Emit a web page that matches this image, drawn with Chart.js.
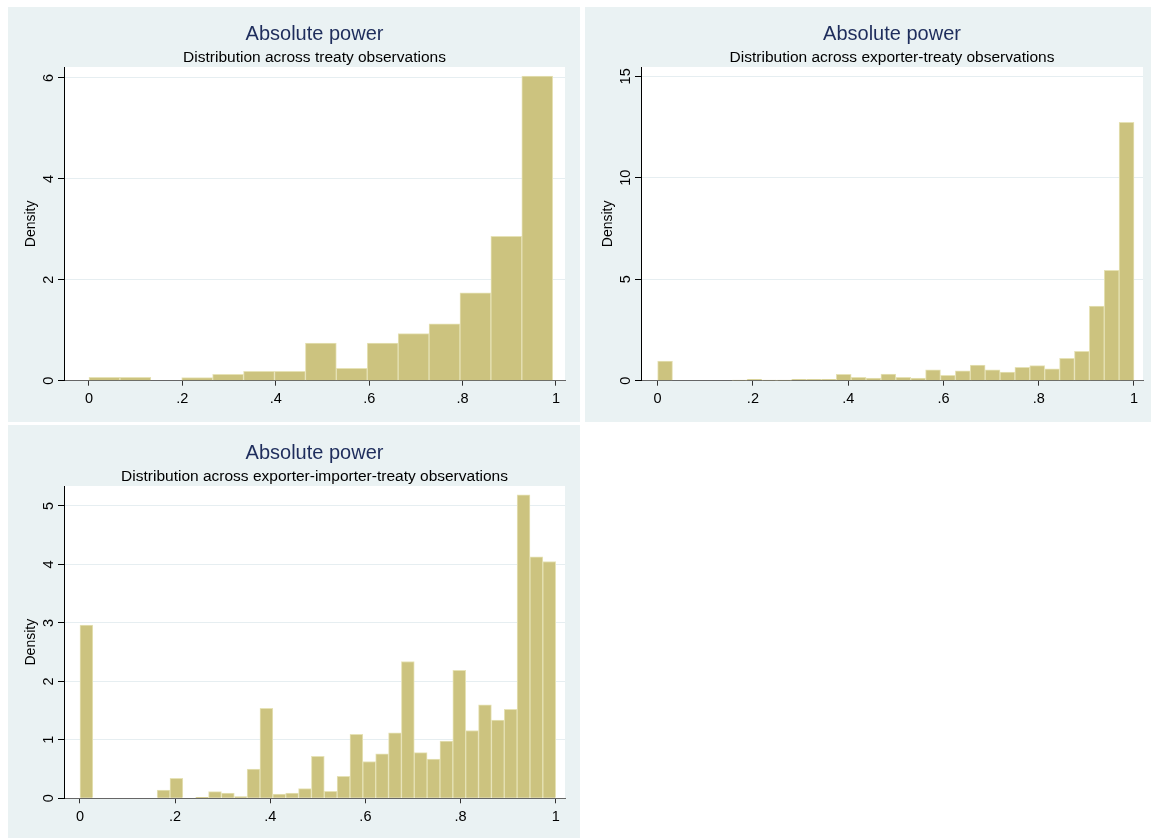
<!DOCTYPE html>
<html>
<head>
<meta charset="utf-8">
<script src="https://cdn.jsdelivr.net/npm/chart.js@4.4.1/dist/chart.umd.min.js"></script>
<style>
  body { margin: 0; background: #fff; width: 1151px; height: 838px; position: relative; overflow: hidden; }
  .panel { position: absolute; background: #EAF2F3; }
  canvas { display: block; }
</style>
</head>
<body>
<div class="panel" style="left:8px;top:7px;width:572px;height:415px"><canvas id="c-treaty" width="572" height="415"></canvas></div>
<div class="panel" style="left:585px;top:7px;width:566px;height:415px"><canvas id="c-exporter" width="566" height="415"></canvas></div>
<div class="panel" style="left:8px;top:425px;width:572px;height:413px"><canvas id="c-pair" width="572" height="413"></canvas></div>
<script>
const TITLE = 'Absolute power';
const xTicks = [0, 0.2, 0.4, 0.6, 0.8, 1];

// treaty observations: 15 bins starting at 0
const treatyBinWidth = 0.0662;
const treatyDensity = [0.066, 0.066, 0, 0.06, 0.126, 0.185, 0.185, 0.748, 0.245, 0.748, 0.933, 1.125, 1.74, 2.864, 6.04];
const treatyYTicks = [0, 2, 4, 6];

// exporter-treaty observations: 32 bins
const exporterBinWidth = 1 / 32;
const exporterDensity = [0.97, 0, 0, 0, 0, 0.03, 0.07, 0.03, 0.03, 0.07, 0.07, 0.07, 0.32, 0.17, 0.13, 0.33,
  0.16, 0.13, 0.54, 0.26, 0.49, 0.77, 0.53, 0.43, 0.66, 0.74, 0.58, 1.10, 1.45, 3.68, 5.44, 12.73];
const exporterYTicks = [0, 5, 10, 15];

// exporter-importer-treaty observations: 37 bins
const pairBinWidth = 1 / 37;
const pairDensity = [2.965, 0, 0, 0, 0, 0, 0.14, 0.34, 0, 0.017, 0.114, 0.09, 0.03, 0.50, 1.54, 0.074, 0.09, 0.165,
  0.72, 0.12, 0.376, 1.095, 0.63, 0.76, 1.12, 2.34, 0.78, 0.67, 0.98, 2.19, 1.16, 1.60, 1.34, 1.52, 5.19, 4.13, 4.05];
const pairYTicks = [0, 1, 2, 3, 4, 5];

const FONT = 'Liberation Sans, Arial, sans-serif';
const fmtX = v => (v === 0 || v === 1) ? String(v) : String(v).replace(/^0/, '');

const plotBg = {
  id: 'plotBg',
  beforeDraw(chart) {
    const { ctx, chartArea: a } = chart;
    ctx.save();
    ctx.fillStyle = '#fff';
    ctx.fillRect(a.left, a.top, a.right - a.left, a.bottom - a.top);
    ctx.restore();
  }
};

function histogram(id, cfg) {
  const canvas = document.getElementById(id);
  const points = cfg.heights.map((h, i) => ({ x: (i + 0.5) * cfg.binWidth, y: h }));
  return new Chart(canvas, {
    type: 'bar',
    data: {
      datasets: [{
        data: points,
        backgroundColor: '#CCC37F',
        borderColor: '#E6E2B6',
        borderWidth: 1,
        barPercentage: 1,
        categoryPercentage: 1,
      }],
    },
    options: {
      responsive: false,
      animation: false,
      layout: { padding: { top: cfg.topPad, right: cfg.rightPad, left: 0, bottom: 0 } },
      plugins: {
        legend: { display: false },
        tooltip: { enabled: false },
        title: {
          display: true, text: TITLE, fullSize: false, color: '#1E2D5C',
          font: { family: FONT, size: 20, weight: 'normal' }, padding: { top: 15, bottom: 0 },
        },
        subtitle: {
          display: true, text: cfg.subtitle, fullSize: false, color: '#000',
          font: { family: FONT, size: 15.5, weight: 'normal' }, padding: { top: 2, bottom: 0.4 },
        },
      },
      scales: {
        x: {
          type: 'linear', min: cfg.xMin, max: cfg.xMax, offset: false,
          afterBuildTicks: s => { s.ticks = xTicks.map(v => ({ value: v })); },
          afterFit: s => { s.height = cfg.xAxisHeight; },
          grid: { offset: false, drawOnChartArea: false, tickLength: 5, tickColor: '#333' },
          border: { color: '#666', width: 1 },
          ticks: { font: { family: FONT, size: 14.5 }, color: '#000', padding: 5, maxRotation: 0, autoSkip: false, callback: fmtX },
        },
        y: {
          min: 0, max: cfg.yMax,
          afterBuildTicks: s => { s.ticks = cfg.yTicks.map(v => ({ value: v })); },
          afterFit: s => { s.width = 56; },
          grid: { color: '#E6EEF1', tickColor: '#000', tickLength: 6 },
          border: { color: '#000', width: 1 },
          ticks: { font: { family: FONT, size: 14.5 }, color: '#000', minRotation: 90, maxRotation: 90, crossAlign: 'center', padding: cfg.yLabelPad },
          title: { display: true, text: 'Density', color: '#000', font: { family: FONT, size: 14 }, padding: { top: 15, bottom: 0 } },
        },
      },
    },
    plugins: [plotBg],
  });
}

histogram('c-treaty', {
  heights: treatyDensity, binWidth: treatyBinWidth, yTicks: treatyYTicks,
  subtitle: 'Distribution across treaty observations',
  xMin: -0.0535, xMax: 1.0193, yMax: 6.218, topPad: 0, rightPad: 15, xAxisHeight: 41.3, yLabelPad: 5,
});
histogram('c-exporter', {
  heights: exporterDensity, binWidth: exporterBinWidth, yTicks: exporterYTicks,
  subtitle: 'Distribution across exporter-treaty observations',
  xMin: -0.0349, xMax: 1.0189, yMax: 15.46, topPad: 0, rightPad: 8, xAxisHeight: 41.3, yLabelPad: 1,
});
histogram('c-pair', {
  heights: pairDensity, binWidth: pairBinWidth, yTicks: pairYTicks,
  subtitle: 'Distribution across exporter-importer-treaty observations',
  xMin: -0.0336, xMax: 1.0196, yMax: 5.342, topPad: 1, rightPad: 15, xAxisHeight: 39.7, yLabelPad: 5,
});
</script>
</body>
</html>
